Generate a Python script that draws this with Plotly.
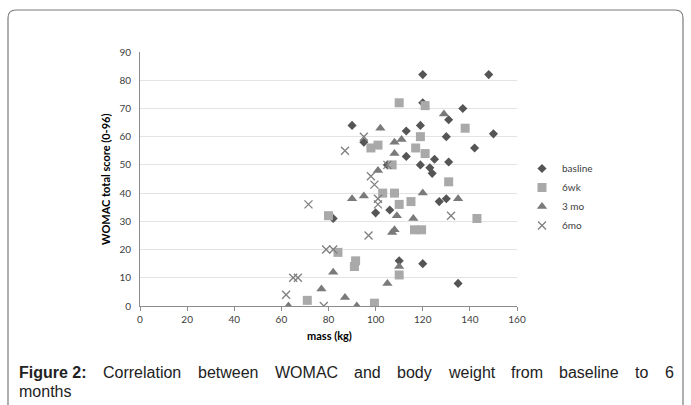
import plotly.graph_objects as go

# ---------------- data ----------------
baseline_x = [120, 148, 137, 131, 119, 113, 90, 95, 130, 150, 142, 125, 131, 113, 119, 123, 124, 120, 105, 127, 130, 100, 106, 82, 110, 120, 135]
baseline_y = [82, 82, 70, 66, 64, 62, 64, 58, 60, 61, 56, 52, 51, 53, 50, 49, 47, 72, 50, 37, 38, 33, 34, 31, 16, 15, 8]

wk6_x = [110, 121, 138, 119, 117, 121, 101, 98, 107, 131, 103, 108, 110, 115, 116.5, 119.5, 80, 84, 91.5, 91, 110, 99.5, 71, 143]
wk6_y = [72, 71, 63, 60, 56, 54, 57, 56, 50, 44, 40, 40, 36, 37, 27, 27, 32, 19, 16, 14, 11, 1, 2, 31]

mo3_x = [129, 102, 111, 108, 108, 101, 90, 95, 120, 135, 109, 116, 107, 108, 110, 82, 105, 87, 92, 77, 63]
mo3_y = [68, 63, 59, 58, 54, 48, 38, 39, 40, 38, 32, 31, 26, 27, 14, 12, 8, 3, 0, 6, 0]

mo6_x = [87, 95, 105, 98, 99.5, 101, 101, 97, 79, 82, 78, 71.5, 65, 67, 62, 132]
mo6_y = [55, 60, 50, 46, 43, 38, 36, 25, 20, 20, 0, 36, 10, 10, 4, 32]

series_names = ["basline", "6wk", "3 mo", "6mo"]

x_title = "mass (kg)"
y_title = "WOMAC total score (0-96)"
caption_bold = "Figure 2:"
caption_words = ["Correlation", "between", "WOMAC", "and", "body", "weight", "from", "baseline", "to", "6"]
caption_line2 = "months"

# ---------------- layout geometry (pixels) ----------------
W, H = 691, 405
L, R, T, B = 140, 517, 52, 306  # plot area box


def px(xp):
    return (xp - L) / (R - L)


def py(yp):
    return (B - yp) / (B - T)


fig = go.Figure()
fig.add_trace(go.Scatter(x=baseline_x, y=baseline_y, mode="markers", name=series_names[0],
                         marker=dict(symbol="diamond", size=7, color="#555555")))
fig.add_trace(go.Scatter(x=wk6_x, y=wk6_y, mode="markers", name=series_names[1],
                         marker=dict(symbol="square", size=9, color="#a9a9a9")))
fig.add_trace(go.Scatter(x=mo3_x, y=mo3_y, mode="markers", name=series_names[2],
                         marker=dict(symbol="triangle-up", size=9, color="#7a7a7a")))
fig.add_trace(go.Scatter(x=mo6_x, y=mo6_y, mode="markers", name=series_names[3],
                         marker=dict(symbol="x-thin-open", size=8, color="#7f7f7f",
                                     line=dict(width=1.3, color="#7f7f7f"))))

axis_font = dict(family="Lato, Liberation Sans, sans-serif", size=10, color="#404040")

fig.update_xaxes(range=[0, 160], dtick=20, tick0=0, showgrid=False, zeroline=False,
                 showline=True, linecolor="#8c8c8c", linewidth=1,
                 ticks="outside", ticklen=4, tickcolor="#8c8c8c", tickfont=axis_font)
fig.update_yaxes(range=[0, 90], dtick=10, tick0=0, showgrid=True, gridcolor="#e3e3e3", gridwidth=1,
                 zeroline=False, showline=True, linecolor="#8c8c8c", linewidth=1,
                 ticks="", tickfont=axis_font, ticklabelstandoff=6)

title_font = dict(family="Lato, Liberation Sans, sans-serif", size=11, color="#000000")
annotations = [
    dict(x=px(329), y=py(335), xref="paper", yref="paper", xanchor="center", yanchor="middle",
         text="<b>%s</b>" % x_title, showarrow=False, font=title_font),
    dict(x=px(105), y=py(179), xref="paper", yref="paper", xanchor="center", yanchor="middle",
         text="<b>%s</b>" % y_title, textangle=-90, showarrow=False, font=title_font),
]

# ---- justified caption line (approximate Arial advance widths, per 1000 em) ----
REG = {"C": 722, "o": 556, "r": 333, "e": 556, "l": 222, "a": 556, "t": 278, "i": 222, "n": 556,
       "b": 556, "w": 722, "W": 944, "O": 778, "M": 833, "A": 667, "d": 556, "y": 500, "g": 556,
       "h": 556, "f": 278, "m": 833, "s": 500, "6": 556}
BOLD = {"F": 611, "i": 278, "g": 611, "u": 611, "r": 389, "e": 556, " ": 278, "2": 556, ":": 333}
cap_size = 16
cap_font = dict(family="Liberation Sans, Arial, sans-serif", size=cap_size, color="#222222")
left_px, right_px = 18, 673
widths = [sum(BOLD[c] for c in caption_bold) * cap_size / 1000.0] + \
         [sum(REG[c] for c in w) * cap_size / 1000.0 for w in caption_words]
gap = (right_px - left_px - sum(widths)) / (len(widths) - 1)
cap_y = 372
xpos = left_px
for i, (w, txt) in enumerate(zip(widths, [caption_bold] + caption_words)):
    label = "<b>%s</b>" % txt if i == 0 else txt
    annotations.append(dict(x=px(xpos - 1), y=py(cap_y), xref="paper", yref="paper", xanchor="left",
                            yanchor="middle", text=label, showarrow=False, font=cap_font))
    xpos += w + gap
annotations.append(dict(x=px(17), y=py(391), xref="paper", yref="paper", xanchor="left", yanchor="middle",
                        text=caption_line2, showarrow=False, font=cap_font))

# rounded border
xl, xr, yt, yb = px(8), px(683), py(10), py(420)
rx, ry = 8 / (R - L), 8 / (B - T)
path = (f"M {xl+rx},{yt} L {xr-rx},{yt} Q {xr},{yt} {xr},{yt-ry} L {xr},{yb} "
        f"L {xl},{yb} L {xl},{yt-ry} Q {xl},{yt} {xl+rx},{yt} Z")

fig.update_layout(
    width=W, height=H,
    margin=dict(l=L, r=W - R, t=T, b=H - B, pad=0),
    paper_bgcolor="white", plot_bgcolor="white",
    showlegend=True,
    legend=dict(x=px(522), y=py(154), xanchor="left", yanchor="top",
                font=dict(family="Lato, Liberation Sans, sans-serif", size=10, color="#404040"),
                bgcolor="rgba(0,0,0,0)", itemwidth=30, tracegroupgap=0),
    annotations=annotations,
    shapes=[dict(type="path", path=path, xref="paper", yref="paper",
                 line=dict(color="#7a7a7a", width=1.2), fillcolor="rgba(0,0,0,0)", layer="below")],
)

fig.write_html("out.html")
